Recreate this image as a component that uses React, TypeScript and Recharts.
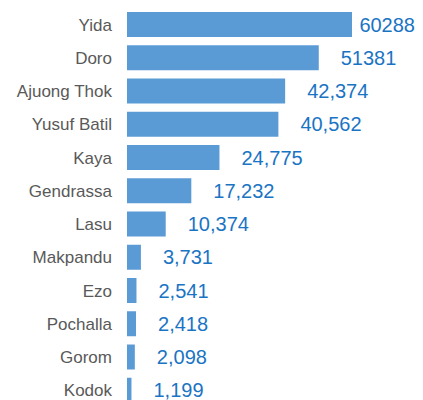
import React from 'react';
import { BarChart, Bar, XAxis, YAxis, LabelList } from 'recharts';

const categories = ['Yida', 'Doro', 'Ajuong Thok', 'Yusuf Batil', 'Kaya', 'Gendrassa', 'Lasu', 'Makpandu', 'Ezo', 'Pochalla', 'Gorom', 'Kodok'];
const values = [60288, 51381, 42374, 40562, 24775, 17232, 10374, 3731, 2541, 2418, 2098, 1199];
const valueLabels = ['60288', '51381', '42,374', '40,562', '24,775', '17,232', '10,374', '3,731', '2,541', '2,418', '2,098', '1,199'];

const data = categories.map((name, i) => ({ name, value: values[i], label: valueLabels[i] }));

const CHART_W = 415;
const FONT = 20;

const renderLabel = (props: any) => {
  const { x, y, width, height, value } = props;
  const text = String(value);
  let w = 0;
  for (const ch of text) w += ch === ',' ? 0.278 : 0.556;
  w *= FONT;
  const maxRight = CHART_W - 8;
  const lx = x + width + 22;
  const overflow = lx + w > maxRight;
  return (
    <text
      x={overflow ? maxRight : lx}
      y={y + height / 2}
      dy="0.355em"
      textAnchor={overflow ? 'end' : 'start'}
      fill="#1a74c4"
      fontSize={FONT}
      fontFamily="Liberation Sans, Arial, sans-serif"
    >
      {text}
    </text>
  );
};

export default function App() {
  return (
    <div style={{ width: CHART_W, height: 392, overflow: 'hidden' }}>
      <BarChart
        width={CHART_W}
        height={399}
        data={data}
        layout="vertical"
        margin={{ top: 0, right: 71, bottom: 0, left: 0 }}
        barSize={25}
      >
        <XAxis type="number" hide domain={[0, 'dataMax']} />
        <YAxis
          type="category"
          dataKey="name"
          width={119}
          axisLine={false}
          tickLine={false}
          tickSize={0}
          tickMargin={15}
          interval={0}
          tick={{ fill: '#595959', fontSize: 17, fontFamily: 'Liberation Sans, Arial, sans-serif' }}
        />
        <Bar dataKey="value" fill="#5b9bd5" isAnimationActive={false}>
          <LabelList dataKey="label" content={renderLabel} />
        </Bar>
      </BarChart>
    </div>
  );
}
